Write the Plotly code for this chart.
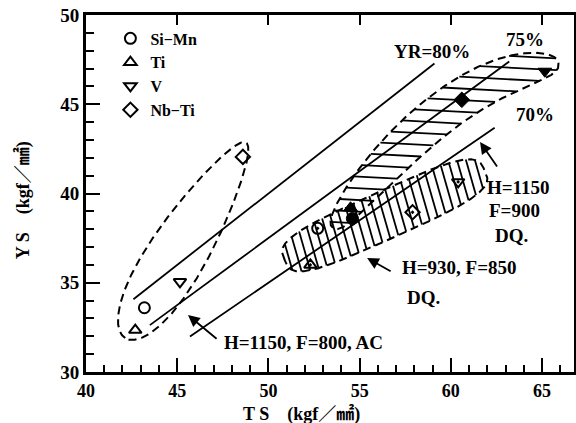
import numpy as np
import plotly.graph_objects as go

# ---------------- data ----------------
series_names = ["Si−Mn", "Ti", "V", "Nb−Ti"]
series_symbols = ["circle", "triangle-up", "triangle-down", "diamond"]

# H=1150, F=800, AC  (open markers)
ac_ts = [43.2, 42.7, 45.15, 48.6]
ac_ys = [33.6, 32.35, 35.05, 42.05]
# H=930, F=850, DQ  (dotted markers)
dq930_ts = [52.7, 52.3, 60.4, 57.9]
dq930_ys = [38.05, 36.0, 40.65, 38.95]
# H=1150, F=900, DQ  (filled markers)
dq1150_ts = [54.6, 54.5, 65.15, 60.6]
dq1150_ys = [38.6, 39.2, 46.85, 45.25]

# yield-ratio reference lines YS = YR * TS
yr_levels = [0.80, 0.75, 0.70]
yr_ts_start = [42.6, 43.5, 45.7]
yr_ts_end = [59.1, 63.2, 62.4]

x_ticks = [40, 45, 50, 55, 60, 65]
y_ticks = [30, 35, 40, 45, 50]

# ---------------- layout geometry ----------------
W, H = 576, 423
ML, MR, MT, MB = 86, 2, 15, 51
XMIN, XMAX = 40, 66.75
YMIN, YMAX = 30, 50
px_x = (W - ML - MR) / (XMAX - XMIN)
px_y = (H - MT - MB) / (YMAX - YMIN)
KY = px_y / px_x  # aspect so that shapes are built in a pixel-like space


def band_outline(p0, p1, p2, w, n, skew=0.0, m=280):
    u = np.linspace(0, 1, m)
    t = (1 - np.cos(np.pi * u)) / 2
    P0, P1, P2 = [np.array([p[0], p[1] * KY]) for p in (p0, p1, p2)]
    B = ((1 - t) ** 2)[:, None] * P0 + (2 * t * (1 - t))[:, None] * P1 + (t ** 2)[:, None] * P2
    D = (2 * (1 - t))[:, None] * (P1 - P0) + (2 * t)[:, None] * (P2 - P1)
    N = np.stack([-D[:, 1], D[:, 0]], 1) / np.linalg.norm(D, axis=1)[:, None]
    s = np.abs(2 * t - 1)
    h = w * np.clip(1 - s ** n, 0, None) ** (1 / n) * (1 + skew * (1 - 2 * t))
    up = B + h[:, None] * N
    lo = B - h[:, None] * N
    return np.vstack([up, lo[::-1], up[:1]])


def hatch(poly, angle_deg, spacing):
    a = np.radians(angle_deg)
    c, s = np.cos(a), np.sin(a)
    X = poly[:, 0] * c + poly[:, 1] * s
    Y = -poly[:, 0] * s + poly[:, 1] * c
    xo, yo = [], []
    for yl in np.arange(Y.min() + spacing * 0.6, Y.max(), spacing):
        xs = []
        for i in range(len(X) - 1):
            ya, yb = Y[i], Y[i + 1]
            if (ya - yl) * (yb - yl) < 0:
                xs.append(X[i] + (yl - ya) * (X[i + 1] - X[i]) / (yb - ya))
        xs.sort()
        for j in range(0, len(xs) - 1, 2):
            for xx in (xs[j], xs[j + 1]):
                xo.append(xx * c - yl * s)
                yo.append((xx * s + yl * c) / KY)
            xo.append(None)
            yo.append(None)
    return xo, yo


def mid(a, b):
    return ((a[0] + b[0]) / 2, (a[1] + b[1]) / 2)


fig = go.Figure()

# YR lines
for r, t0, t1 in zip(yr_levels, yr_ts_start, yr_ts_end):
    ts = np.array([t0, t1])
    fig.add_trace(go.Scatter(x=ts, y=r * ts, mode="lines",
                             line=dict(color="black", width=1.8),
                             showlegend=False, hoverinfo="skip"))

# group outlines
FONT = "Liberation Serif, Noto Sans CJK JP, serif"
left_p0, left_p2 = (42.15, 31.9), (48.77, 42.85)
up_p0, up_p1, up_p2 = (53.54, 38.07), (59.99, 46.92), (65.9, 47.25)
lo_p0, lo_p2 = (50.9, 36.25), (61.85, 41.3)

shapes_def = [
    (left_p0, mid(left_p0, left_p2), left_p2, 1.55, 2.0, 0.3, None),
    (up_p0, up_p1, up_p2, 1.1, 2.5, 0.0, (-3, 0.64)),
    (lo_p0, mid(lo_p0, lo_p2), lo_p2, 1.3, 3.5, 0.0, (-74, 0.47)),
]
for p0, p1, p2, w, n, sk, h in shapes_def:
    poly = band_outline(p0, p1, p2, w, n, sk)
    fig.add_trace(go.Scatter(x=poly[:, 0], y=poly[:, 1] / KY, mode="lines",
                             line=dict(color="black", width=2, dash="8px,5px"),
                             showlegend=False, hoverinfo="skip"))
    if h:
        hx, hy = hatch(poly, h[0], h[1])
        fig.add_trace(go.Scatter(x=hx, y=hy, mode="lines",
                                 line=dict(color="black", width=1.8),
                                 showlegend=False, hoverinfo="skip"))

# markers
for i, (name, sym) in enumerate(zip(series_names, series_symbols)):
    fig.add_trace(go.Scatter(x=[ac_ts[i]], y=[ac_ys[i]], mode="markers", name=name,
                             marker=dict(symbol=sym + "-open", size=11, color="black",
                                         line=dict(color="black", width=2))))
    fig.add_trace(go.Scatter(x=[dq930_ts[i]], y=[dq930_ys[i]], mode="markers",
                             showlegend=False,
                             marker=dict(symbol=sym + "-open-dot", size=11, color="black",
                                         line=dict(color="black", width=2))))
    fig.add_trace(go.Scatter(x=[dq1150_ts[i]], y=[dq1150_ys[i]], mode="markers",
                             showlegend=False,
                             marker=dict(symbol=sym, size=12, color="black",
                                         line=dict(color="black", width=1))))

# dummy trace for top/right frame axes
fig.add_trace(go.Scatter(x=[None], y=[None], xaxis="x2", yaxis="y2", showlegend=False))

# text labels
labels = [
    ("YR=80%", 58.97, 47.93, "center"),
    ("75%", 64.07, 48.6, "center"),
    ("70%", 64.6, 44.4, "center"),
    ("H=1150, F=800, AC", 47.46, 31.68, "left"),
    ("H=930, F=850", 57.21, 35.83, "left"),
    ("DQ.", 57.49, 34.2, "left"),
    ("H=1150", 61.88, 40.31, "left"),
    ("F=900", 61.98, 39.02, "left"),
    ("DQ.", 62.3, 37.62, "left"),
]
TXT = dict(family=FONT, size=19, color="black", weight="bold")
TITLE = dict(family=FONT, size=18, color="black", weight="bold")
annotations = []
for txt, x, y, anc in labels:
    annotations.append(dict(text=txt, x=x, y=y, xref="x", yref="y", showarrow=False,
                            xanchor=anc, yanchor="middle", font=TXT))

arrows = [
    ((45.59, 33.19), (47.24, 31.79)),
    ((55.41, 36.39), (56.78, 35.6)),
    ((61.6, 42.88), (62.59, 41.43)),
]
for (hx, hy), (tx, ty) in arrows:
    annotations.append(dict(text="", x=hx, y=hy, ax=tx, ay=ty, xref="x", yref="y",
                            axref="x", ayref="y", showarrow=True, arrowhead=2,
                            arrowsize=1.3, arrowwidth=1.8, arrowcolor="black", standoff=0))

# axis titles
annotations.append(dict(text="Y S　(kgf／㎟)", xref="paper", yref="paper",
                        x=-0.128, y=0.48, showarrow=False, textangle=-90,
                        xanchor="center", yanchor="middle", font=TITLE))
annotations.append(dict(text="T S　(kgf／㎟)", xref="paper", yref="paper",
                        x=0.442, y=-0.118, showarrow=False,
                        xanchor="center", yanchor="middle", font=TITLE))

axis_common = dict(showgrid=False, zeroline=False, linecolor="black", color="black")
fig.update_layout(
    width=W, height=H,
    margin=dict(l=ML, r=MR, t=MT, b=MB, pad=0),
    paper_bgcolor="white", plot_bgcolor="white",
    font=dict(family=FONT, size=18, color="black"),
    xaxis=dict(range=[XMIN, XMAX], tickvals=x_ticks, ticks="inside", ticklen=14,
               tickwidth=2, showline=True, linewidth=3,
               minor=dict(dtick=1, tick0=40, ticks="inside", ticklen=7, tickwidth=1.5,
                          tickcolor="black"),
               tickfont=dict(size=18, weight="bold"), **axis_common),
    xaxis2=dict(overlaying="x", side="top", matches="x", range=[XMIN, XMAX],
                tickvals=x_ticks, ticks="inside", ticklen=10, tickwidth=2,
                showticklabels=False, showline=True, linewidth=3, **axis_common),
    yaxis=dict(range=[YMIN, YMAX], tickvals=y_ticks, ticks="inside", ticklen=14,
               tickwidth=2, showline=True, linewidth=3,
               minor=dict(dtick=1, tick0=30, ticks="inside", ticklen=8, tickwidth=1.5,
                          tickcolor="black"),
               tickfont=dict(size=19, weight="bold"), **axis_common),
    yaxis2=dict(overlaying="y", side="right", matches="y", range=[YMIN, YMAX],
                ticks="", showticklabels=False, showline=True, linewidth=1.5,
                **axis_common),
    legend=dict(x=0.05, y=0.982, xanchor="left", yanchor="top",
                bgcolor="rgba(0,0,0,0)",
                font=dict(family=FONT, size=16, color="black", weight="bold"),
                itemwidth=30, tracegroupgap=0),
    annotations=annotations,
    showlegend=True,
)

fig.write_html("out.html")
